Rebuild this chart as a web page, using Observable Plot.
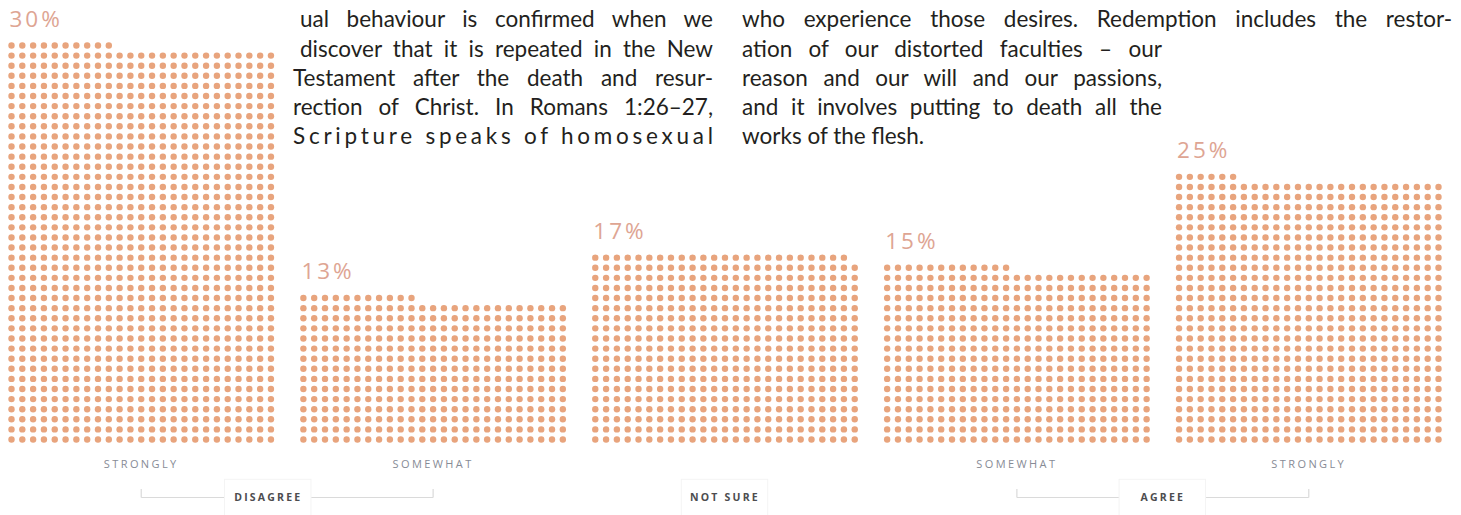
<!DOCTYPE html>
<html>
<head>
<meta charset="utf-8">
<script src="https://cdn.jsdelivr.net/npm/d3@7"></script>
<script src="https://cdn.jsdelivr.net/npm/@observablehq/plot@0.6"></script>
<style>
html, body { margin: 0; padding: 0; background: #fff; }
#wrap { position: relative; width: 1461px; height: 515px; overflow: hidden; background: #fff; }
#chart { position: absolute; left: 0; top: 0; }
.ln { position: absolute; font-family: Lato, "Noto Sans", sans-serif; font-size: 22.5px; line-height: 28px; color: #231f20; white-space: pre; }
</style>
</head>
<body>
<div id="wrap"><div id="chart"></div></div>
<script>
// ---- chart data ----
const categories = ["STRONGLY", "SOMEWHAT", "", "SOMEWHAT", "STRONGLY"];
const percentLabels = ["30%", "13%", "17%", "15%", "25%"];
const dotCounts = [985, 361, 474, 437, 656];   // dots drawn per bar
const groupLabels = ["DISAGREE", "NOT SURE", "AGREE"];
const groupFirstBar = [0, 2, 3];
const groupLastBar = [1, 2, 4];

// ---- body text that overlaps the chart ----
const bodyText1 = [
  "ual behaviour is confirmed when we",
  "discover that it is repeated in the New",
  "Testament after the death and resur-",
  "rection of Christ. In Romans 1:26–27,",
  "Scripture speaks of homosexual"
];
const bodyText2 = [
  "who experience those desires. Redemption includes the restor-",
  "ation of our distorted faculties – our",
  "reason and our will and our passions,",
  "and it involves putting to death all the",
  "works of the flesh."
];

// ---- layout ----
const COLS = 25, PITCH = 27;
const dots = [];
dotCounts.forEach((n, b) => {
  for (let i = 0; i < n; i++) dots.push({bar: b, x: b * PITCH + (i % COLS), y: Math.floor(i / COLS)});
});
const center = b => b * PITCH + (COLS - 1) / 2;
const pctData = percentLabels.map((p, i) => ({p, x: i * PITCH, y: Math.floor((dotCounts[i] - 1) / COLS)}));
const catData = categories.map((c, i) => ({c, x: center(i)})).filter(d => d.c);
const GY = -5.74;           // group label row (in row units, below the bars)
const GAP = 4.0;            // half-width of the label box in column units
const groupData = groupLabels.map((g, k) => {
  const a = center(groupFirstBar[k]), b = center(groupLastBar[k]);
  const mid = (a + b) / 2 + (k === 0 ? -1.75 : 0);
  return {g, a, b, mid, bracket: a !== b};
});
const segs = [];
const ticks = [];
groupData.filter(d => d.bracket).forEach(d => {
  segs.push({x1: d.a, x2: d.mid - GAP + 0.3}, {x1: d.mid + GAP - 0.3, x2: d.b});
  ticks.push({x: d.a}, {x: d.b});
});

const chart = Plot.plot({
  width: 1461,
  height: 515,
  margin: 0,
  x: {domain: [0, 4 * PITCH + COLS - 1], range: [11, 1438], axis: null},
  y: {domain: [0, 39], range: [439, 45], axis: null},
  marks: [
    Plot.dot(dots, {x: "x", y: "y", r: 3.2, fill: "#e8a47d", stroke: "none"}),
    Plot.text(pctData, {x: "x", y: "y", text: "p", dy: -26, dx: -2, textAnchor: "start",
      fontSize: 22.5, fill: "#dea593", fontFamily: "Open Sans"}),
    Plot.text(catData, {x: "x", y: () => 0, text: "c", dy: 25, fontSize: 11,
      fill: "#878b96", fontFamily: "Open Sans"}),
    Plot.link(segs, {x1: "x1", x2: "x2", y1: () => GY, y2: () => GY, stroke: "#dadada", strokeWidth: 1.2}),
    Plot.link(ticks, {x1: "x", x2: "x", y1: () => GY, y2: () => GY + 0.85, stroke: "#dadada", strokeWidth: 1.2}),
    Plot.rect(groupData, {x1: d => d.mid - GAP, x2: d => d.mid + GAP, y1: () => GY + 1.75, y2: () => GY - 2.0,
      fill: "#fff", stroke: "#f4f4f4"}),
    Plot.text(groupData, {x: "mid", y: () => GY, text: "g", fontSize: 10.5, fontWeight: "bold",
      fill: "#4d4d4f", fontFamily: "Open Sans"})
  ]
});
document.getElementById("chart").appendChild(chart);

// letter spacing for the small caps labels
const textGroups = chart.querySelectorAll('g[aria-label="text"]');
if (textGroups[0]) textGroups[0].style.letterSpacing = "3px";
if (textGroups[1]) textGroups[1].style.letterSpacing = "2.4px";
if (textGroups[2]) textGroups[2].style.letterSpacing = "2.2px";

// ---- body text overlay, justified by measurement ----
const lineCenters = [20, 50, 79, 108, 137];
const col1Left = [300, 300, 293, 293, 293], col1Right = [713, 713, 713, 713, 713];
const col2Left = [742, 742, 742, 742, 742], col2Right = [1452, 1162, 1162, 1162, null];
const wrap = document.getElementById("wrap");
function addLine(text, left, right, cy, letterMode) {
  const s = document.createElement("span");
  s.className = "ln";
  s.textContent = text;
  s.style.left = left + "px";
  s.style.top = (cy - 15) + "px";
  wrap.appendChild(s);
  if (right != null) {
    const natural = s.getBoundingClientRect().width;
    const extra = (right - left) - natural;
    if (letterMode) {
      s.style.letterSpacing = (extra / (text.length - 1)) + "px";
    } else {
      const spaces = (text.match(/ /g) || []).length;
      if (spaces) s.style.wordSpacing = (extra / spaces) + "px";
    }
  }
}
bodyText1.forEach((t, i) => addLine(t, col1Left[i], col1Right[i], lineCenters[i], i === 4));
bodyText2.forEach((t, i) => addLine(t, col2Left[i], col2Right[i], lineCenters[i], false));
</script>
</body>
</html>
